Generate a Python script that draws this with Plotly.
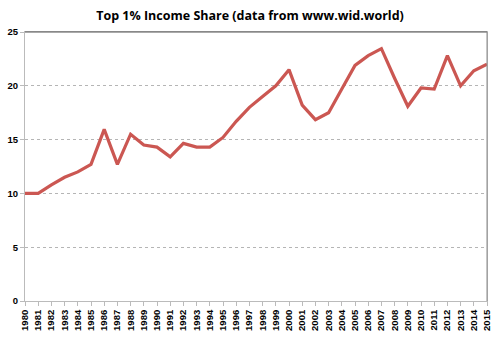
import plotly.graph_objects as go

# Top 1% income share by year
years = list(range(1980, 2016))
share = [10.0, 10.0, 10.8, 11.5, 12.0, 12.7, 15.95, 12.7, 15.5, 14.5,
         14.3, 13.4, 14.65, 14.3, 14.3, 15.2, 16.7, 18.0, 19.0, 20.0,
         21.5, 18.2, 16.85, 17.5, 19.7, 21.9, 22.8, 23.45, 20.7, 18.1,
         19.8, 19.7, 22.8, 20.0, 21.4, 22.0]
y_ticks = [0, 5, 10, 15, 20, 25]

tick_font = dict(family="Liberation Sans, Arial, sans-serif", size=9.5,
                 color="#000", weight="bold")

fig = go.Figure(go.Scatter(
    x=years, y=share, mode="lines",
    line=dict(color="#CB5752", width=3.2),
    hoverinfo="x+y",
))

fig.update_layout(
    width=500, height=339,
    margin=dict(l=23, r=8, t=32, b=27),
    paper_bgcolor="white", plot_bgcolor="white",
    showlegend=False,
    title=dict(text="Top 1% Income Share (data from www.wid.world)",
               x=0.5, xanchor="center", y=0.955, yanchor="middle",
               font=dict(family="Open Sans, Liberation Sans, sans-serif",
                         size=12.5, color="#000", weight="bold")),
    xaxis=dict(
        range=[1980, 2015], tickmode="array", tickvals=years,
        ticktext=[str(y) for y in years], tickangle=-90,
        tickfont=tick_font, showgrid=False, zeroline=False,
        showline=True, linecolor="#bbbbbb", linewidth=1, mirror=True,
        ticks="outside", ticklen=4, tickcolor="#bbbbbb",
    ),
    yaxis=dict(
        range=[0, 25], tickmode="array", tickvals=y_ticks,
        tickfont=tick_font, showgrid=True, gridcolor="#b5b5b5",
        griddash="dot", gridwidth=1, zeroline=False,
        showline=True, linecolor="#bbbbbb", linewidth=1, mirror=True,
        ticks="outside", ticklen=4, tickcolor="#bbbbbb",
    ),
    shapes=[
        # darker frame along the top and right of the plot area
        dict(type="line", xref="paper", yref="paper",
             x0=0, x1=1, y0=1, y1=1,
             line=dict(color="#555555", width=1)),
        dict(type="line", xref="paper", yref="paper",
             x0=1, x1=1, y0=0, y1=1,
             line=dict(color="#8a8a8a", width=1)),
    ],
)

fig.write_html("out.html")
